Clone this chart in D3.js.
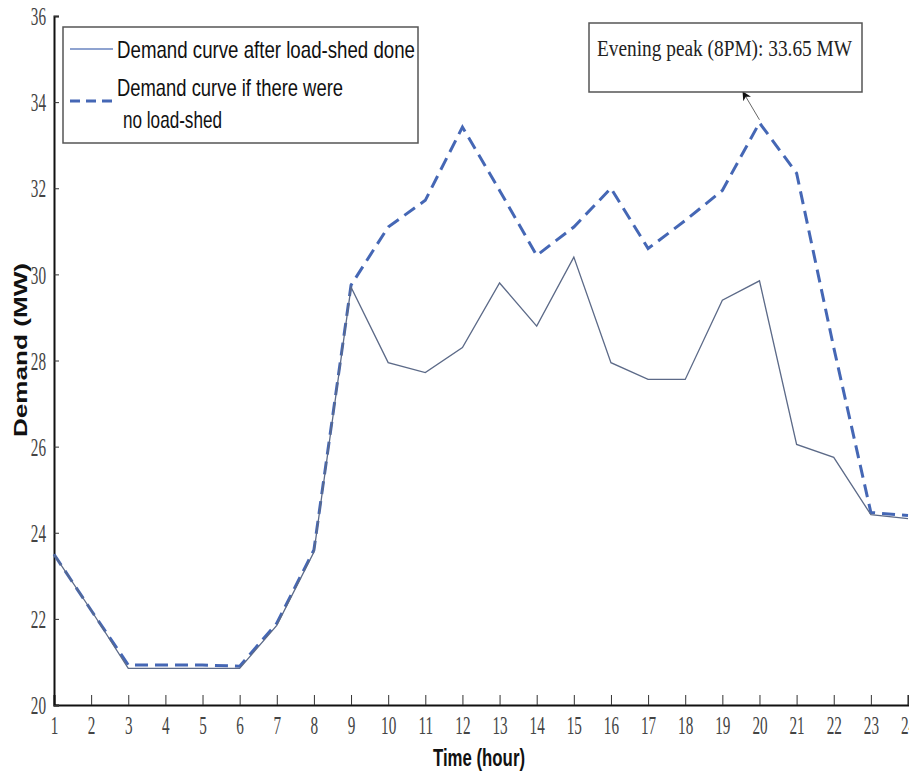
<!DOCTYPE html>
<html>
<head>
<meta charset="utf-8">
<script src="https://cdn.jsdelivr.net/npm/d3@7"></script>
<style>
  body { margin: 0; background: #fff; }
  svg { display: block; }
</style>
</head>
<body>
<svg width="909" height="776"></svg>
<script>
const svg = d3.select('svg');

// data
const hours = d3.range(1, 25);
const afterShed = [23.5, 22.2, 20.85, 20.85, 20.85, 20.85, 21.85, 23.55, 29.7, 27.95, 27.72, 28.3,
  29.8, 28.8, 30.4, 27.95, 27.56, 27.56, 29.4, 29.85, 26.05, 25.75, 24.42, 24.33];
const noShed = [23.5, 22.2, 20.93, 20.93, 20.93, 20.9, 21.9, 23.6, 29.75, 31.1, 31.72, 33.42,
  31.95, 30.44, 31.1, 32.0, 30.6, 31.25, 31.95, 33.52, 32.35, 28.3, 24.47, 24.4];
const yTicks = [20, 22, 24, 26, 28, 30, 32, 34, 36];
const peakHour = 20;
const peakLabel = 'Evening peak (8PM): 33.65 MW';

const x = d3.scaleLinear().domain([1, 24]).range([54, 908]);
const y = d3.scaleLinear().domain([20, 36]).range([705, 16]);

// tick labels are tall and narrow in the original, so squeeze them
const sx = 0.8, sy = 1.35;

const xAxis = d3.axisBottom(x).tickValues(hours).tickSize(-10).tickFormat(d3.format('d'));
const gx = svg.append('g').attr('transform', `translate(0, ${y(20)})`).call(xAxis);
gx.select('.domain').attr('stroke', '#111').attr('stroke-width', 2);
gx.selectAll('.tick line').attr('stroke', '#333');
gx.selectAll('.tick text')
  .attr('font-family', 'Liberation Serif, serif')
  .attr('font-size', 19)
  .attr('fill', '#444')
  .attr('y', 8)
  .attr('transform', `scale(${sx},${sy})`);

const yAxis = d3.axisLeft(y).tickValues(yTicks).tickSize(-5);
const gy = svg.append('g').attr('transform', `translate(${x(1)}, 0)`).call(yAxis);
gy.select('.domain').attr('stroke', '#111').attr('stroke-width', 2);
gy.selectAll('.tick line').attr('stroke', '#333');
gy.selectAll('.tick text')
  .attr('font-family', 'Liberation Serif, serif')
  .attr('font-size', 19)
  .attr('fill', '#444')
  .attr('x', -8 / sx)
  .attr('dy', '0.34em')
  .attr('transform', `scale(${sx},${sy})`);

// lines
const line = (vals) => d3.line().x((d, i) => x(hours[i])).y((d) => y(d))(vals);

svg.append('path')
  .attr('d', line(noShed))
  .attr('fill', 'none')
  .attr('stroke', '#4567b5')
  .attr('stroke-width', 3)
  .attr('stroke-dasharray', '13,7');

svg.append('path')
  .attr('d', line(afterShed))
  .attr('fill', 'none')
  .attr('stroke', '#5c6a88')
  .attr('stroke-width', 1.3);

// axis titles
svg.append('text')
  .attr('transform', 'translate(27, 350) rotate(-90)')
  .attr('text-anchor', 'middle')
  .attr('font-family', 'Liberation Sans, Arial, sans-serif')
  .attr('font-weight', 'bold')
  .attr('font-size', 19)
  .attr('fill', '#111')
  .attr('textLength', 174)
  .attr('lengthAdjust', 'spacingAndGlyphs')
  .text('Demand (MW)');

svg.append('text')
  .attr('x', 433)
  .attr('y', 766)
  .attr('font-family', 'Liberation Sans, Arial, sans-serif')
  .attr('font-weight', 'bold')
  .attr('font-size', 23)
  .attr('fill', '#111')
  .attr('textLength', 92)
  .attr('lengthAdjust', 'spacingAndGlyphs')
  .text('Time (hour)');

// legend
const legend = svg.append('g');
legend.append('rect')
  .attr('x', 63).attr('y', 27).attr('width', 355).attr('height', 116)
  .attr('fill', '#fff').attr('stroke', '#555').attr('stroke-width', 1.5);
legend.append('line')
  .attr('x1', 70).attr('x2', 113).attr('y1', 49).attr('y2', 49)
  .attr('stroke', '#6a84c0').attr('stroke-width', 1.5);
legend.append('line')
  .attr('x1', 70).attr('x2', 114).attr('y1', 101).attr('y2', 101)
  .attr('stroke', '#4567b5').attr('stroke-width', 3).attr('stroke-dasharray', '10,6');
const legendText = [
  { t: 'Demand curve after load-shed done', x: 117, y: 58, w: 298 },
  { t: 'Demand curve if there were', x: 117, y: 96, w: 226 },
  { t: 'no load-shed', x: 123, y: 128, w: 99 }
];
legend.selectAll('text.lt').data(legendText).enter().append('text')
  .attr('x', (d) => d.x)
  .attr('y', (d) => d.y)
  .attr('font-family', 'Liberation Sans, Arial, sans-serif')
  .attr('font-size', 24)
  .attr('fill', '#111')
  .attr('textLength', (d) => d.w)
  .attr('lengthAdjust', 'spacingAndGlyphs')
  .text((d) => d.t);

// peak annotation
svg.append('defs').append('marker')
  .attr('id', 'arrow')
  .attr('viewBox', '0 0 10 10')
  .attr('refX', 9).attr('refY', 5)
  .attr('markerWidth', 9).attr('markerHeight', 9)
  .attr('orient', 'auto')
  .append('path').attr('d', 'M0,0 L10,5 L0,10 L3,5 Z').attr('fill', '#111');

const px = x(peakHour), py = y(noShed[peakHour - 1]);
svg.append('line')
  .attr('x1', px).attr('y1', py - 3)
  .attr('x2', 743).attr('y2', 92)
  .attr('stroke', '#666').attr('stroke-width', 1)
  .attr('marker-end', 'url(#arrow)');

svg.append('rect')
  .attr('x', 589).attr('y', 23).attr('width', 273).attr('height', 69)
  .attr('fill', '#fff').attr('stroke', '#555').attr('stroke-width', 1.5);
svg.append('text')
  .attr('x', 597).attr('y', 56)
  .attr('font-family', 'Liberation Serif, serif')
  .attr('font-size', 23)
  .attr('fill', '#222')
  .attr('textLength', 255)
  .attr('lengthAdjust', 'spacingAndGlyphs')
  .text(peakLabel);
</script>
</body>
</html>
